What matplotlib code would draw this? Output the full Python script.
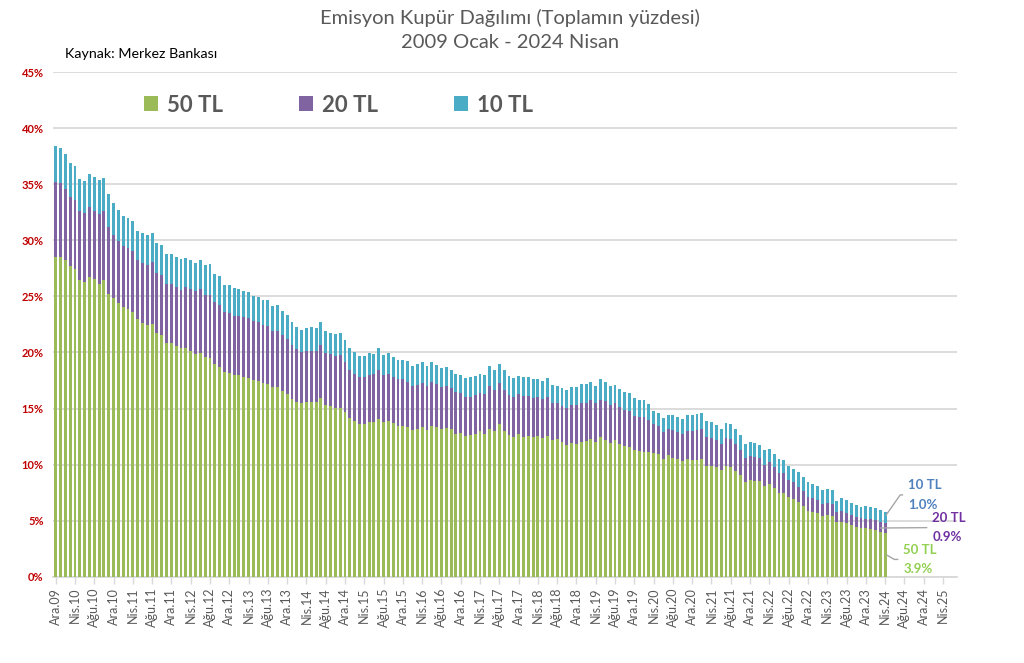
import numpy as np
import matplotlib.pyplot as plt

plt.rcParams['font.family'] = ['Lato', 'DejaVu Sans']

# monthly shares (% of total issued banknotes), Ara.09 .. Nis.24
tl50 = [28.54, 28.48, 28.24, 27.70, 27.40, 26.49, 26.25, 26.73, 26.55, 26.10,
        26.43, 25.20, 24.82, 24.38, 24.05, 23.90, 23.63, 22.95, 22.62, 22.44,
        22.56, 21.76, 21.60, 20.83, 20.80, 20.57, 20.36, 20.40, 20.15, 19.88,
        19.94, 19.61, 19.52, 18.99, 18.72, 18.24, 18.15, 17.98, 17.95, 17.83,
        17.71, 17.53, 17.44, 17.26, 17.20, 16.88, 16.88, 16.55, 16.31, 15.83,
        15.60, 15.48, 15.54, 15.54, 15.54, 15.92, 15.33, 15.21, 15.09, 15.09,
        14.70, 14.14, 13.90, 13.66, 13.66, 13.78, 13.78, 14.10, 13.81, 13.90,
        13.69, 13.45, 13.48, 13.36, 13.10, 13.21, 13.39, 13.10, 13.42, 13.33,
        13.21, 13.27, 13.15, 12.77, 12.80, 12.52, 12.62, 12.74, 12.98, 12.77,
        13.21, 13.04, 13.60, 13.04, 12.65, 12.50, 12.71, 12.50, 12.53, 12.50,
        12.56, 12.41, 12.56, 12.20, 12.26, 11.99, 11.76, 11.93, 11.85, 11.99,
        12.08, 12.26, 12.02, 12.50, 12.20, 11.92, 12.17, 11.85, 11.67, 11.58,
        11.31, 11.22, 11.13, 11.13, 11.07, 10.95, 10.51, 10.83, 10.63, 10.48,
        10.33, 10.48, 10.42, 10.42, 10.48, 9.91, 9.91, 9.82, 9.55, 9.88,
        9.76, 9.46, 9.08, 8.45, 8.60, 8.57, 8.51, 8.10, 8.27, 7.89,
        7.44, 7.44, 7.11, 6.96, 6.67, 6.31, 5.86, 5.80, 5.65, 5.45,
        5.51, 5.39, 4.88, 4.91, 4.82, 4.58, 4.46, 4.38, 4.35, 4.29,
        4.17, 4.02, 3.90]

tl20 = [6.66, 6.62, 6.34, 6.14, 6.17, 6.10, 6.16, 6.25, 6.10, 6.25,
        6.16, 5.96, 5.66, 5.56, 5.45, 5.40, 5.42, 5.29, 5.36, 5.39,
        5.48, 5.29, 5.30, 5.27, 5.30, 5.29, 5.24, 5.42, 5.50, 5.57,
        5.71, 5.54, 5.63, 5.47, 5.54, 5.39, 5.36, 5.29, 5.29, 5.32,
        5.36, 5.27, 5.30, 5.15, 5.18, 5.05, 5.05, 5.03, 4.88, 4.85,
        4.67, 4.58, 4.61, 4.61, 4.58, 4.70, 4.58, 4.61, 4.55, 4.64,
        4.41, 4.31, 4.20, 4.17, 4.17, 4.22, 4.29, 4.32, 4.14, 4.20,
        4.08, 4.14, 4.11, 4.02, 3.92, 3.90, 3.87, 3.92, 3.96, 3.87,
        3.69, 3.75, 3.70, 3.66, 3.60, 3.51, 3.45, 3.51, 3.39, 3.51,
        3.81, 3.63, 3.69, 3.63, 3.57, 3.54, 3.60, 3.63, 3.60, 3.42,
        3.45, 3.42, 3.48, 3.31, 3.25, 3.28, 3.27, 3.37, 3.45, 3.52,
        3.43, 3.48, 3.46, 3.24, 3.51, 3.43, 3.34, 3.27, 3.24, 3.21,
        3.04, 3.01, 3.10, 2.86, 2.53, 2.47, 2.44, 2.35, 2.50, 2.47,
        2.44, 2.56, 2.62, 2.71, 2.67, 2.56, 2.50, 2.41, 2.30, 2.50,
        2.50, 2.39, 2.23, 2.15, 2.15, 2.08, 2.06, 1.90, 1.97, 1.90,
        1.85, 1.79, 1.52, 1.49, 1.37, 1.31, 1.25, 1.19, 1.23, 1.07,
        1.04, 1.10, 0.86, 0.92, 0.89, 0.93, 0.90, 0.83, 0.83, 0.83,
        0.89, 0.86, 0.90]

tl10 = [3.16, 3.14, 3.07, 3.04, 3.01, 2.89, 2.89, 2.94, 2.95, 3.01,
        2.95, 2.98, 2.82, 2.76, 2.70, 2.70, 2.65, 2.62, 2.64, 2.64,
        2.61, 2.71, 2.65, 2.68, 2.65, 2.68, 2.70, 2.60, 2.62, 2.55,
        2.59, 2.65, 2.74, 2.56, 2.59, 2.41, 2.47, 2.47, 2.44, 2.35,
        2.29, 2.23, 2.17, 2.26, 2.29, 2.21, 2.27, 2.14, 2.11, 2.06,
        1.99, 1.96, 2.05, 2.11, 2.08, 2.10, 2.02, 1.91, 2.00, 1.97,
        2.02, 1.94, 1.93, 1.87, 1.84, 1.91, 1.81, 2.00, 1.84, 1.87,
        1.81, 1.76, 1.76, 1.82, 1.73, 1.82, 1.88, 1.73, 1.79, 1.67,
        1.73, 1.70, 1.63, 1.67, 1.60, 1.67, 1.73, 1.67, 1.73, 1.70,
        1.73, 1.75, 1.67, 1.75, 1.64, 1.67, 1.61, 1.67, 1.64, 1.70,
        1.61, 1.64, 1.67, 1.60, 1.54, 1.52, 1.64, 1.63, 1.63, 1.72,
        1.72, 1.64, 1.57, 1.88, 1.67, 1.67, 1.63, 1.61, 1.58, 1.58,
        1.57, 1.54, 1.51, 1.43, 1.22, 1.22, 1.25, 1.20, 1.27, 1.31,
        1.31, 1.34, 1.42, 1.42, 1.49, 1.46, 1.40, 1.34, 1.33, 1.37,
        1.37, 1.33, 1.31, 1.25, 1.25, 1.28, 1.22, 1.31, 1.13, 1.16,
        1.19, 1.16, 1.25, 1.16, 1.28, 1.31, 1.31, 1.28, 1.25, 1.19,
        1.25, 1.22, 1.02, 1.16, 1.11, 1.07, 1.07, 1.01, 1.16, 1.13,
        1.07, 1.04, 1.00]

# x axis labels every 4 months, Ara.09 .. Nis.25
tick_labels = ['Ara.09',
               'Nis.10', 'Ağu.10', 'Ara.10', 'Nis.11', 'Ağu.11', 'Ara.11',
               'Nis.12', 'Ağu.12', 'Ara.12', 'Nis.13', 'Ağu.13', 'Ara.13',
               'Nis.14', 'Ağu.14', 'Ara.14', 'Nis.15', 'Ağu.15', 'Ara.15',
               'Nis.16', 'Ağu.16', 'Ara.16', 'Nis.17', 'Ağu.17', 'Ara.17',
               'Nis.18', 'Ağu.18', 'Ara.18', 'Nis.19', 'Ağu.19', 'Ara.19',
               'Nis.20', 'Ağu.20', 'Ara.20', 'Nis.21', 'Ağu.21', 'Ara.21',
               'Nis.22', 'Ağu.22', 'Ara.22', 'Nis.23', 'Ağu.23', 'Ara.23',
               'Nis.24', 'Ağu.24', 'Ara.24', 'Nis.25']

c50 = '#9BBB59'
c20 = '#8064A2'
c10 = '#4BACC6'
gray = '#595959'

a50 = np.array(tl50)
a20 = np.array(tl20)
a10 = np.array(tl10)
x = np.arange(len(a50))

fig = plt.figure(figsize=(10.24, 6.63), dpi=100)
ax = fig.add_axes([0.052, 0.13, 0.883, 0.7614])

w = 0.6
b1 = ax.bar(x, a50, w, color=c50, label='50 TL', zorder=3)
b2 = ax.bar(x, a20, w, bottom=a50, color=c20, label='20 TL', zorder=3)
b3 = ax.bar(x, a10, w, bottom=a50 + a20, color=c10, label='10 TL', zorder=3)

ax.set_ylim(0, 45)
ax.set_xlim(-0.5, 187)
ax.set_yticks(np.arange(0, 46, 5))
ax.set_yticklabels([f'{v}%' for v in range(0, 46, 5)])
ax.grid(axis='y', color='#D9D9D9', linewidth=1.3, zorder=0)
ax.set_axisbelow(True)

ticks = np.arange(0, 4 * len(tick_labels), 4)
ax.set_xticks(ticks)
ax.set_xticklabels(tick_labels, rotation=90, fontsize=9, color=gray)

for s in ['top', 'right', 'left']:
    ax.spines[s].set_visible(False)
ax.spines['bottom'].set_color('#D9D9D9')
ax.spines['bottom'].set_linewidth(1.3)
ax.tick_params(axis='x', length=5, color='#D9D9D9', width=1, pad=3)
ax.tick_params(axis='y', length=0, pad=7, labelsize=8, labelcolor='#C00000')
for t in ax.get_yticklabels():
    t.set_fontweight('bold')

leg = ax.legend(handles=[b1, b2, b3], loc='upper left', ncol=3, frameon=False,
                bbox_to_anchor=(0.078, 0.995), handlelength=0.65, handleheight=0.65,
                handletextpad=0.4, columnspacing=3.4,
                prop={'size': 16, 'weight': 'bold'})
for t in leg.get_texts():
    t.set_color(gray)

fig.text(0.498, 0.973, 'Emisyon Kupür Dağılımı (Toplamın yüzdesi)', ha='center', va='center',
         fontsize=14.5, color=gray)
fig.text(0.498, 0.936, '2009 Ocak - 2024 Nisan', ha='center', va='center',
         fontsize=14.5, color=gray)
fig.text(0.063, 0.919, 'Kaynak: Merkez Bankası', ha='left', va='center',
         fontsize=10.3, color='black')

# end labels
last = len(a50) - 1
line = dict(arrowstyle='-', color='#A6A6A6', lw=1, shrinkA=2, shrinkB=0)
ax.annotate(f'10 TL\n{a10[last]:.1f}%', xy=(last + 0.2, a50[last] + a20[last] + a10[last] - 0.3),
            xytext=(last + 4.8, 7.3), ha='left', va='center', fontsize=9.5, fontweight='bold',
            color='#4F81BD', linespacing=1.75,
            arrowprops=dict(line, connectionstyle='angle,angleA=0,angleB=55,rad=0'))
ax.annotate(f'20 TL\n{a20[last]:.1f}%', xy=(last - 1.0, a50[last] + a20[last] / 2),
            xytext=(last + 9.8, 4.4), ha='left', va='center', fontsize=9.5, fontweight='bold',
            color='#7030A0', linespacing=1.75,
            arrowprops=dict(line, connectionstyle='arc3'))
ax.annotate(f'50 TL\n{a50[last]:.1f}%', xy=(last + 0.3, a50[last] / 2),
            xytext=(last + 3.8, 1.55), ha='left', va='center', fontsize=9.5, fontweight='bold',
            color='#92D050', linespacing=1.75,
            arrowprops=dict(line, connectionstyle='angle,angleA=0,angleB=-30,rad=0'))

fig.savefig('out.png', dpi=100)
